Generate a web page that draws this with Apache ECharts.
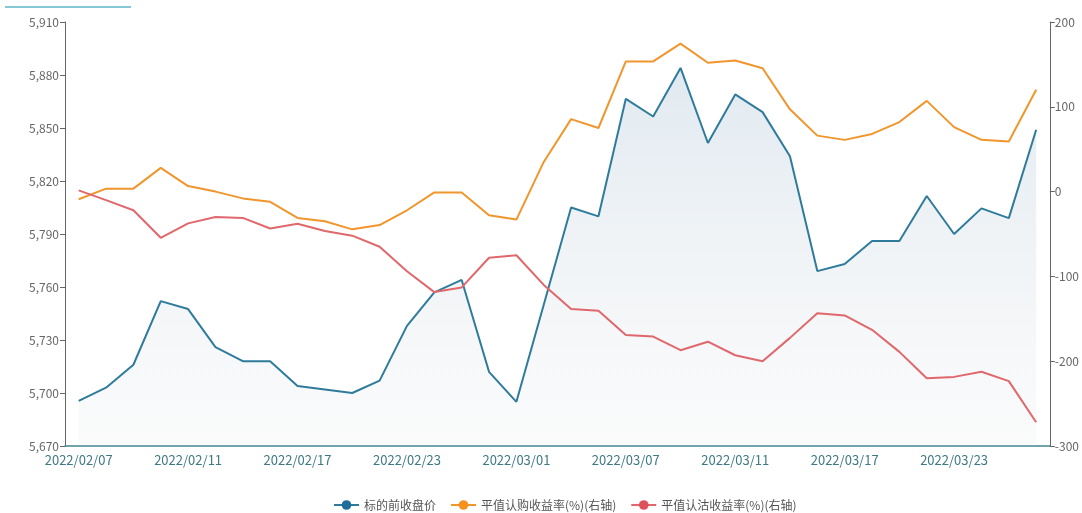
<!DOCTYPE html>
<html>
<head>
<meta charset="utf-8">
<style>
  html, body { margin: 0; padding: 0; background: #ffffff; }
  #chart { width: 1082px; height: 513px; }
</style>
<script src="https://cdn.jsdelivr.net/npm/echarts@6/dist/echarts.min.js"></script>
</head>
<body>
<div id="chart"></div>
<script>
// Trading days
const dates = [
  '2022/02/07','2022/02/08','2022/02/09','2022/02/10','2022/02/11',
  '2022/02/14','2022/02/15','2022/02/16','2022/02/17','2022/02/18',
  '2022/02/21','2022/02/22','2022/02/23','2022/02/24','2022/02/25',
  '2022/02/28','2022/03/01','2022/03/02','2022/03/03','2022/03/04',
  '2022/03/07','2022/03/08','2022/03/09','2022/03/10','2022/03/11',
  '2022/03/14','2022/03/15','2022/03/16','2022/03/17','2022/03/18',
  '2022/03/21','2022/03/22','2022/03/23','2022/03/24','2022/03/25',
  '2022/03/28'
];

// 标的前收盘价 (left axis)
const closePrice = [
  5695.5, 5703, 5716, 5752, 5747.5, 5726, 5718, 5718, 5704, 5702,
  5700, 5707, 5738, 5757, 5764, 5712, 5695, 5750, 5805, 5800,
  5866.5, 5856.5, 5884, 5841.5, 5869, 5859, 5834, 5769, 5773, 5786,
  5786, 5811.5, 5790, 5804.5, 5799, 5849
];

// 平值认购收益率(%) (right axis)
const callReturn = [
  -9, 3.5, 3.5, 28, 6.5, 0, -8, -12, -31, -35,
  -44.5, -39.5, -22, -1, -1, -28, -33, 35, 85.5, 75,
  153.5, 153.5, 174.5, 152, 154.5, 145.5, 97, 66, 61, 68,
  82, 107, 76, 61, 59, 120
];

// 平值认沽收益率(%) (right axis)
const putReturn = [
  1.5, -10, -22, -54.5, -37.5, -30, -31, -43.5, -38, -46.5,
  -52, -65, -94, -118.5, -113, -78, -75, -110, -138.5, -140.5,
  -169, -171, -187, -177, -193, -200, -172.5, -143.5, -146, -163,
  -189, -220, -218.5, -212.5, -223.5, -272
];

const leftTicks = { min: 5670, max: 5910, interval: 30 };
const rightTicks = { min: -300, max: 200, interval: 100 };

const cjk = '"Noto Sans CJK SC", "Noto Sans", sans-serif';

const chart = echarts.init(document.getElementById('chart'));
chart.setOption({
  animation: false,
  backgroundColor: '#ffffff',
  grid: { left: 65, right: 29, top: 22, bottom: 67, containLabel: false },
  graphic: [{
    type: 'line',
    shape: { x1: 5, y1: 7, x2: 131, y2: 7 },
    style: { stroke: '#5cb6c6', lineWidth: 1.5 }
  }],
  legend: {
    bottom: -3,
    left: 328,
    itemWidth: 25,
    itemHeight: 12,
    itemGap: 14,
    textStyle: { color: '#555', fontSize: 12, fontFamily: cjk },
    data: ['标的前收盘价', '平值认购收益率(%)(右轴)', '平值认沽收益率(%)(右轴)']
  },
  xAxis: {
    type: 'category',
    data: dates,
    boundaryGap: true,
    axisLine: { onZero: false, lineStyle: { color: '#3f8791', width: 1.5 } },
    axisTick: { interval: 3, length: 5, lineStyle: { color: '#3f8791' } },
    axisLabel: { interval: 3, color: '#3f7a84', fontSize: 13, fontFamily: cjk, margin: 8 },
    splitLine: { show: false }
  },
  yAxis: [{
    type: 'value',
    position: 'left',
    min: leftTicks.min, max: leftTicks.max, interval: leftTicks.interval,
    axisLine: { show: true, lineStyle: { color: '#666' } },
    axisTick: { show: true, length: 5, lineStyle: { color: '#666' } },
    axisLabel: {
      color: '#666', fontSize: 12, fontFamily: cjk, margin: 6,
      formatter: v => v.toLocaleString('en-US')
    },
    splitLine: { show: false }
  }, {
    type: 'value',
    position: 'right',
    min: rightTicks.min, max: rightTicks.max, interval: rightTicks.interval,
    axisLine: { show: true, lineStyle: { color: '#666' } },
    axisTick: { show: true, length: 5, lineStyle: { color: '#666' } },
    axisLabel: { color: '#666', fontSize: 12, fontFamily: cjk, margin: 5 },
    splitLine: { show: false }
  }],
  series: [{
    name: '标的前收盘价',
    type: 'line',
    yAxisIndex: 0,
    data: closePrice,
    symbol: 'circle',
    symbolSize: 9,
    showSymbol: false,
    itemStyle: { color: '#1f6d99' },
    lineStyle: { color: '#2f7b9c', width: 2 },
    areaStyle: {
      origin: 'start',
      color: new echarts.graphic.LinearGradient(0, 0, 0, 1, [
        { offset: 0, color: 'rgba(120,160,190,0.32)' },
        { offset: 1, color: 'rgba(200,205,210,0.12)' }
      ])
    },
    z: 2
  }, {
    name: '平值认购收益率(%)(右轴)',
    type: 'line',
    yAxisIndex: 1,
    data: callReturn,
    symbol: 'circle',
    symbolSize: 9,
    showSymbol: false,
    itemStyle: { color: '#f7921e' },
    lineStyle: { color: '#f0962c', width: 2 },
    z: 3
  }, {
    name: '平值认沽收益率(%)(右轴)',
    type: 'line',
    yAxisIndex: 1,
    data: putReturn,
    symbol: 'circle',
    symbolSize: 9,
    showSymbol: false,
    itemStyle: { color: '#e0505a' },
    lineStyle: { color: '#e0686c', width: 2 },
    z: 3
  }]
});
</script>
</body>
</html>
